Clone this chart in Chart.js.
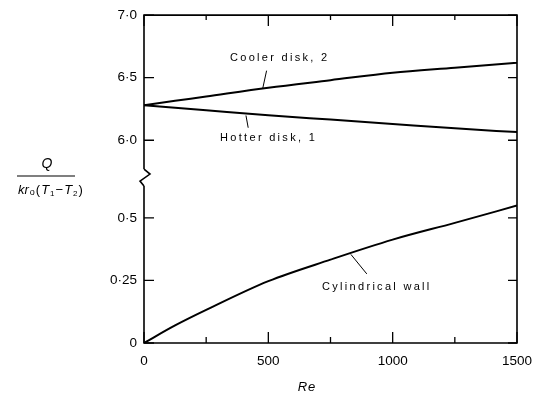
<!DOCTYPE html>
<html>
<head>
<meta charset="utf-8">
<script src="https://cdn.jsdelivr.net/npm/chart.js@4.4.1/dist/chart.umd.min.js"></script>
<style>
  html, body { margin: 0; padding: 0; background: #fff; }
  #wrap { width: 546px; height: 394px; position: relative; }
</style>
</head>
<body>
<div id="wrap"><canvas id="chart"></canvas></div>
<script>
// --- Data ---
const reynolds = [0, 125, 250, 500, 750, 1000, 1250, 1500];
const coolerDisk = [6.28, 6.315, 6.35, 6.42, 6.48, 6.54, 6.58, 6.62];
const hotterDisk = [6.28, 6.26, 6.24, 6.20, 6.165, 6.13, 6.095, 6.065];
const cylindricalWall = [0, 0.07, 0.132, 0.247, 0.333, 0.413, 0.48, 0.549];

const xTicks = [0, 250, 500, 750, 1000, 1250, 1500];
const xLabelled = [0, 500, 1000, 1500];
const upperTicks = [6.0, 6.5, 7.0];
const lowerTicks = [0, 0.25, 0.5];

const FONT = '"Liberation Sans", Arial, sans-serif';

function pairs(xs, ys) {
    return xs.map((x, i) => ({ x: x, y: ys[i] }));
}

function dotted(v, digits) {
    if (v === 0) return '0';
    return v.toFixed(digits).replace('.', '\u00b7');
}

// --- Frame, inward ticks, axis break, labels and axis titles ---
const framePlugin = {
    id: 'frame',
    afterDraw(chart) {
        const { ctx, chartArea: a, scales } = chart;
        const x = scales.x, yH = scales.yHigh, yL = scales.yLow;
        ctx.save();
        ctx.strokeStyle = '#000';
        ctx.fillStyle = '#000';
        ctx.lineWidth = 1.6;

        // frame (left side with break)
        const brk = yH.bottom;
        ctx.beginPath();
        ctx.moveTo(a.left, brk - 10);
        ctx.lineTo(a.left, a.top);
        ctx.lineTo(a.right, a.top);
        ctx.lineTo(a.right, a.bottom);
        ctx.lineTo(a.left, a.bottom);
        ctx.lineTo(a.left, brk + 7);
        ctx.stroke();
        // zigzag break
        ctx.beginPath();
        ctx.moveTo(a.left, brk - 10);
        ctx.lineTo(a.left + 6, brk - 5);
        ctx.lineTo(a.left - 4, brk + 2);
        ctx.lineTo(a.left, brk + 7);
        ctx.stroke();

        // x ticks, top and bottom, pointing inward
        ctx.lineWidth = 1.3;
        xTicks.forEach(v => {
            const px = x.getPixelForValue(v);
            const big = v % 500 === 0;
            ctx.beginPath();
            ctx.moveTo(px, a.bottom);
            ctx.lineTo(px, a.bottom - (big ? 11 : 6));
            ctx.moveTo(px, a.top);
            ctx.lineTo(px, a.top + (big ? 11 : 5));
            ctx.stroke();
        });
        // y ticks, left and right
        const yTick = (scale, v) => {
            const py = scale.getPixelForValue(v);
            ctx.beginPath();
            ctx.moveTo(a.left, py);
            ctx.lineTo(a.left + 10, py);
            ctx.moveTo(a.right, py);
            ctx.lineTo(a.right - 9, py);
            ctx.stroke();
        };
        upperTicks.forEach(v => yTick(yH, v));
        lowerTicks.forEach(v => yTick(yL, v));

        // curve labels with leader lines
        ctx.font = '11px ' + FONT;
        ctx.letterSpacing = '2.3px';
        ctx.textBaseline = 'middle';
        ctx.textAlign = 'left';
        const label = (scale, text, tx, ty, l1, l2) => {
            ctx.fillText(text, x.getPixelForValue(tx), scale.getPixelForValue(ty));
            ctx.lineWidth = 1;
            ctx.beginPath();
            ctx.moveTo(x.getPixelForValue(l1[0]), scale.getPixelForValue(l1[1]));
            ctx.lineTo(x.getPixelForValue(l2[0]), scale.getPixelForValue(l2[1]));
            ctx.stroke();
        };
        label(yH, 'Cooler disk, 2', 346, 6.66, [493, 6.556], [477, 6.41]);
        label(yH, 'Hotter disk, 1', 306, 6.016, [410, 6.198], [419, 6.10]);
        label(yL, 'Cylindrical wall', 716, 0.224, [832, 0.354], [896, 0.276]);

        // x axis title
        ctx.letterSpacing = '1px';
        ctx.textAlign = 'center';
        ctx.font = 'italic 13px ' + FONT;
        ctx.fillText('Re', 307, 387);

        // y axis title: Q / kr0(T1 - T2)
        ctx.letterSpacing = '0px';
        ctx.font = 'italic 14px ' + FONT;
        ctx.fillText('Q', 47, 164);
        ctx.lineWidth = 1.2;
        ctx.beginPath();
        ctx.moveTo(17, 176);
        ctx.lineTo(75, 176);
        ctx.stroke();
        ctx.textAlign = 'left';
        const runs = [
            ['kr', 'italic 13px', 0],
            ['o', '9px', 3],
            ['(', '13px', 0],
            ['T', 'italic 13px', 0],
            ['1', '8px', 4],
            ['\u2212', '13px', 0],
            ['T', 'italic 13px', 0],
            ['2', '8px', 4],
            [')', '13px', 0]
        ];
        let cx = 18;
        runs.forEach(r => {
            ctx.font = r[1] + ' ' + FONT;
            ctx.fillText(r[0], cx, 190 + r[2]);
            cx += ctx.measureText(r[0]).width + 1;
        });
        ctx.restore();
    }
};

const lineStyle = {
    borderColor: '#000',
    borderWidth: 2,
    pointRadius: 0,
    fill: false,
    cubicInterpolationMode: 'monotone'
};

const tickFont = { family: FONT, size: 13.5 };

new Chart(document.getElementById('chart'), {
    type: 'line',
    data: {
        datasets: [
            { label: 'Cooler disk, 2', data: pairs(reynolds, coolerDisk), yAxisID: 'yHigh', ...lineStyle },
            { label: 'Hotter disk, 1', data: pairs(reynolds, hotterDisk), yAxisID: 'yHigh', ...lineStyle },
            { label: 'Cylindrical wall', data: pairs(reynolds, cylindricalWall), yAxisID: 'yLow', ...lineStyle }
        ]
    },
    options: {
        responsive: true,
        maintainAspectRatio: false,
        animation: false,
        layout: { padding: { top: 14, right: 29, left: 0, bottom: 0 } },
        plugins: { legend: { display: false }, tooltip: { enabled: false } },
        scales: {
            x: {
                type: 'linear',
                min: 0,
                max: 1500,
                grid: { display: false, drawTicks: false },
                border: { display: false },
                afterBuildTicks: s => { s.ticks = xTicks.map(v => ({ value: v })); },
                afterFit: s => { s.height = 51; },
                ticks: {
                    color: '#000',
                    padding: 10,
                    maxRotation: 0,
                    autoSkip: false,
                    font: tickFont,
                    callback: v => xLabelled.includes(v) ? String(v) : ''
                }
            },
            yLow: {
                type: 'linear',
                position: 'left',
                stack: 'y',
                stackWeight: 1,
                min: 0,
                max: 0.655,
                grid: { display: false, drawTicks: false },
                border: { display: false },
                afterBuildTicks: s => { s.ticks = lowerTicks.map(v => ({ value: v })); },
                afterFit: s => { s.width = 144; },
                ticks: {
                    color: '#000',
                    padding: 7,
                    font: tickFont,
                    callback: v => dotted(v, v === 0.25 ? 2 : 1)
                }
            },
            yHigh: {
                type: 'linear',
                position: 'left',
                stack: 'y',
                stackWeight: 1,
                min: 5.69,
                max: 7.0,
                grid: { display: false, drawTicks: false },
                border: { display: false },
                afterBuildTicks: s => { s.ticks = upperTicks.map(v => ({ value: v })); },
                afterFit: s => { s.width = 144; },
                ticks: {
                    color: '#000',
                    padding: 7,
                    font: tickFont,
                    callback: v => dotted(v, 1)
                }
            }
        }
    },
    plugins: [framePlugin]
});
</script>
</body>
</html>
